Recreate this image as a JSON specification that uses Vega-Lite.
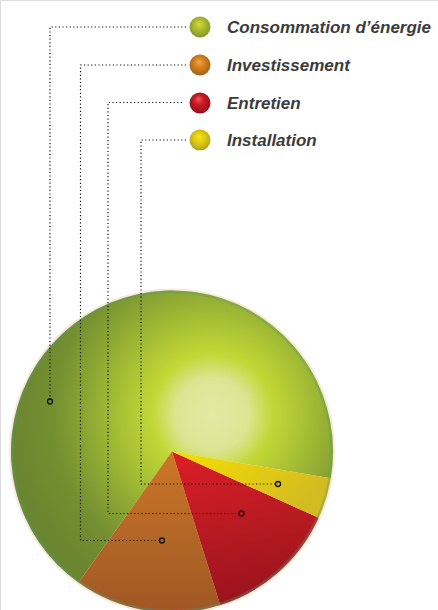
{
  "$schema": "https://vega.github.io/schema/vega-lite/v6.json",
  "width": 438,
  "height": 610,
  "padding": 0,
  "autosize": "none",
  "background": "#ffffff",
  "datasets": {
    "shares": [
      {"poste": "Installation", "part": 4.1, "rang": 1},
      {"poste": "Entretien", "part": 13.4, "rang": 2},
      {"poste": "Investissement", "part": 14.7, "rang": 3},
      {"poste": "Consommation d’énergie", "part": 67.8, "rang": 4}
    ],
    "leaders": [
      {"poste": "Consommation d’énergie", "step": 0, "px": 186, "py": 27},
      {"poste": "Consommation d’énergie", "step": 1, "px": 50, "py": 27},
      {"poste": "Consommation d’énergie", "step": 2, "px": 50, "py": 401.5},
      {"poste": "Investissement", "step": 0, "px": 186, "py": 65},
      {"poste": "Investissement", "step": 1, "px": 80.5, "py": 65},
      {"poste": "Investissement", "step": 2, "px": 80.5, "py": 540.5},
      {"poste": "Investissement", "step": 3, "px": 162, "py": 540.5},
      {"poste": "Entretien", "step": 0, "px": 182, "py": 102.5},
      {"poste": "Entretien", "step": 1, "px": 108, "py": 102.5},
      {"poste": "Entretien", "step": 2, "px": 108, "py": 513.5},
      {"poste": "Entretien", "step": 3, "px": 241.5, "py": 513.5},
      {"poste": "Installation", "step": 0, "px": 186, "py": 140},
      {"poste": "Installation", "step": 1, "px": 141, "py": 140},
      {"poste": "Installation", "step": 2, "px": 141, "py": 484},
      {"poste": "Installation", "step": 3, "px": 278, "py": 484}
    ],
    "anchors": [
      {"poste": "Consommation d’énergie", "px": 50, "py": 401.5, "ly": 27},
      {"poste": "Investissement", "px": 162, "py": 540.5, "ly": 65},
      {"poste": "Entretien", "px": 241.5, "py": 513.5, "ly": 103},
      {"poste": "Installation", "px": 278, "py": 484, "ly": 140}
    ]
  },
  "data": {"name": "shares"},
  "transform": [
    {"stack": "part", "sort": [{"field": "rang", "order": "ascending"}], "groupby": [], "as": ["debut", "fin"]}
  ],
  "layer": [
    {
      "transform": [{"filter": "datum.rang == 1"}],
      "mark": {"type": "arc", "outerRadius": 163, "innerRadius": 0, "theta": 0, "theta2": 6.2832, "fill": "#fbe2c6", "opacity": 0.8},
      "encoding": {
        "x": {"datum": 172, "type": "quantitative", "scale": {"domain": [0, 438], "range": [0, 438]}, "axis": null},
        "y": {"datum": 451.5, "type": "quantitative", "scale": {"domain": [0, 610], "range": [0, 610]}, "axis": null}
      }
    },
    {
      "transform": [{"filter": "datum.rang == 4"}],
      "mark": {"type": "arc", "outerRadius": 161, "innerRadius": 0,
        "fill": {"gradient": "radial", "x1": 0.625, "y1": 0.43, "r1": 0, "x2": 0.625, "y2": 0.43, "r2": 0.62, "stops": [
          {"offset": 0, "color": "#e4e9a4"},
          {"offset": 0.18, "color": "#dde594"},
          {"offset": 0.3, "color": "#c2d836"},
          {"offset": 0.46, "color": "#a9c134"},
          {"offset": 0.62, "color": "#8ea833"},
          {"offset": 0.8, "color": "#748f30"},
          {"offset": 1, "color": "#6b8630"}
        ]}},
      "encoding": {
        "x": {"datum": 172, "type": "quantitative", "scale": {"domain": [0, 438], "range": [0, 438]}, "axis": null},
        "y": {"datum": 451.5, "type": "quantitative", "scale": {"domain": [0, 610], "range": [0, 610]}, "axis": null},
        "theta": {"field": "debut", "type": "quantitative", "stack": null, "scale": {"domain": [0, 100], "range": [1.738, 8.021]}},
        "theta2": {"field": "fin"}
      }
    },
    {
      "transform": [{"filter": "datum.rang == 3"}],
      "mark": {"type": "arc", "outerRadius": 161, "innerRadius": 0,
        "fill": {"gradient": "linear", "x1": 0.5, "y1": 0, "x2": 0.5, "y2": 1, "stops": [
          {"offset": 0, "color": "#cc7826"},
          {"offset": 0.55, "color": "#b26626"},
          {"offset": 1, "color": "#a15724"}
        ]}},
      "encoding": {
        "x": {"datum": 172, "type": "quantitative", "scale": {"domain": [0, 438], "range": [0, 438]}, "axis": null},
        "y": {"datum": 451.5, "type": "quantitative", "scale": {"domain": [0, 610], "range": [0, 610]}, "axis": null},
        "theta": {"field": "debut", "type": "quantitative", "stack": null, "scale": {"domain": [0, 100], "range": [1.738, 8.021]}},
        "theta2": {"field": "fin"}
      }
    },
    {
      "transform": [{"filter": "datum.rang == 2"}],
      "mark": {"type": "arc", "outerRadius": 161, "innerRadius": 0,
        "fill": {"gradient": "linear", "x1": 0.3, "y1": 0, "x2": 0.5, "y2": 1, "stops": [
          {"offset": 0, "color": "#d81e26"},
          {"offset": 0.5, "color": "#b81a22"},
          {"offset": 1, "color": "#98121c"}
        ]}},
      "encoding": {
        "x": {"datum": 172, "type": "quantitative", "scale": {"domain": [0, 438], "range": [0, 438]}, "axis": null},
        "y": {"datum": 451.5, "type": "quantitative", "scale": {"domain": [0, 610], "range": [0, 610]}, "axis": null},
        "theta": {"field": "debut", "type": "quantitative", "stack": null, "scale": {"domain": [0, 100], "range": [1.738, 8.021]}},
        "theta2": {"field": "fin"}
      }
    },
    {
      "transform": [{"filter": "datum.rang == 1"}],
      "mark": {"type": "arc", "outerRadius": 161, "innerRadius": 0,
        "fill": {"gradient": "linear", "x1": 0, "y1": 0, "x2": 1, "y2": 0.4, "stops": [
          {"offset": 0, "color": "#f7df00"},
          {"offset": 1, "color": "#d3bb22"}
        ]}},
      "encoding": {
        "x": {"datum": 172, "type": "quantitative", "scale": {"domain": [0, 438], "range": [0, 438]}, "axis": null},
        "y": {"datum": 451.5, "type": "quantitative", "scale": {"domain": [0, 610], "range": [0, 610]}, "axis": null},
        "theta": {"field": "debut", "type": "quantitative", "stack": null, "scale": {"domain": [0, 100], "range": [1.738, 8.021]}},
        "theta2": {"field": "fin"}
      }
    },
    {
      "transform": [{"filter": "datum.rang == 1"}],
      "mark": {"type": "arc", "outerRadius": 161, "innerRadius": 158.5, "theta": 0, "theta2": 6.2832, "fill": "#4f9a7c", "opacity": 0.35},
      "encoding": {
        "x": {"datum": 172, "type": "quantitative", "scale": {"domain": [0, 438], "range": [0, 438]}, "axis": null},
        "y": {"datum": 451.5, "type": "quantitative", "scale": {"domain": [0, 610], "range": [0, 610]}, "axis": null}
      }
    },
    {
      "data": {"name": "leaders"},
      "mark": {"type": "line", "stroke": "#111111", "strokeWidth": 1.2, "strokeDash": [1.2, 2.4], "interpolate": "linear"},
      "encoding": {
        "x": {"field": "px", "type": "quantitative", "scale": {"domain": [0, 438], "range": [0, 438]}, "axis": null},
        "y": {"field": "py", "type": "quantitative", "scale": {"domain": [0, 610], "range": [0, 610]}, "axis": null},
        "detail": {"field": "poste"},
        "order": {"field": "step", "type": "quantitative"}
      }
    },
    {
      "data": {"name": "anchors"},
      "mark": {"type": "point", "shape": "circle", "filled": false, "stroke": "#111111", "strokeWidth": 1.4, "size": 24, "opacity": 1},
      "encoding": {
        "x": {"field": "px", "type": "quantitative", "scale": {"domain": [0, 438], "range": [0, 438]}, "axis": null},
        "y": {"field": "py", "type": "quantitative", "scale": {"domain": [0, 610], "range": [0, 610]}, "axis": null}
      }
    },
    {
      "data": {"name": "anchors"},
      "transform": [{"filter": "datum.poste == 'Consommation d’énergie'"}],
      "mark": {"type": "point", "shape": "circle", "filled": true, "opacity": 1, "size": 440,
        "fill": {"gradient": "radial", "x1": 0.45, "y1": 0.35, "r1": 0, "x2": 0.5, "y2": 0.45, "r2": 0.6, "stops": [
          {"offset": 0, "color": "#d5dc3a"},
          {"offset": 0.5, "color": "#a9b52a"},
          {"offset": 1, "color": "#7f9233"}
        ]}},
      "encoding": {
        "x": {"datum": 200, "type": "quantitative", "scale": {"domain": [0, 438], "range": [0, 438]}, "axis": null},
        "y": {"field": "ly", "type": "quantitative", "scale": {"domain": [0, 610], "range": [0, 610]}, "axis": null}
      }
    },
    {
      "data": {"name": "anchors"},
      "transform": [{"filter": "datum.poste == 'Investissement'"}],
      "mark": {"type": "point", "shape": "circle", "filled": true, "opacity": 1, "size": 440,
        "fill": {"gradient": "radial", "x1": 0.45, "y1": 0.35, "r1": 0, "x2": 0.5, "y2": 0.45, "r2": 0.6, "stops": [
          {"offset": 0, "color": "#f0a640"},
          {"offset": 0.5, "color": "#cf7a1c"},
          {"offset": 1, "color": "#96601e"}
        ]}},
      "encoding": {
        "x": {"datum": 200, "type": "quantitative", "scale": {"domain": [0, 438], "range": [0, 438]}, "axis": null},
        "y": {"field": "ly", "type": "quantitative", "scale": {"domain": [0, 610], "range": [0, 610]}, "axis": null}
      }
    },
    {
      "data": {"name": "anchors"},
      "transform": [{"filter": "datum.poste == 'Entretien'"}],
      "mark": {"type": "point", "shape": "circle", "filled": true, "opacity": 1, "size": 440,
        "fill": {"gradient": "radial", "x1": 0.42, "y1": 0.3, "r1": 0, "x2": 0.5, "y2": 0.45, "r2": 0.6, "stops": [
          {"offset": 0, "color": "#ee5a5a"},
          {"offset": 0.4, "color": "#c81a22"},
          {"offset": 1, "color": "#8d1018"}
        ]}},
      "encoding": {
        "x": {"datum": 200, "type": "quantitative", "scale": {"domain": [0, 438], "range": [0, 438]}, "axis": null},
        "y": {"field": "ly", "type": "quantitative", "scale": {"domain": [0, 610], "range": [0, 610]}, "axis": null}
      }
    },
    {
      "data": {"name": "anchors"},
      "transform": [{"filter": "datum.poste == 'Installation'"}],
      "mark": {"type": "point", "shape": "circle", "filled": true, "opacity": 1, "size": 440,
        "fill": {"gradient": "radial", "x1": 0.45, "y1": 0.35, "r1": 0, "x2": 0.5, "y2": 0.45, "r2": 0.6, "stops": [
          {"offset": 0, "color": "#f7e814"},
          {"offset": 0.5, "color": "#dcc712"},
          {"offset": 1, "color": "#a89a22"}
        ]}},
      "encoding": {
        "x": {"datum": 200, "type": "quantitative", "scale": {"domain": [0, 438], "range": [0, 438]}, "axis": null},
        "y": {"field": "ly", "type": "quantitative", "scale": {"domain": [0, 610], "range": [0, 610]}, "axis": null}
      }
    },
    {
      "data": {"name": "anchors"},
      "mark": {"type": "text", "align": "left", "baseline": "middle", "dy": 1, "font": "Liberation Sans", "fontStyle": "italic", "fontWeight": "bold", "fontSize": 17, "fill": "#3b3b3b"},
      "encoding": {
        "x": {"datum": 227, "type": "quantitative", "scale": {"domain": [0, 438], "range": [0, 438]}, "axis": null},
        "y": {"field": "ly", "type": "quantitative", "scale": {"domain": [0, 610], "range": [0, 610]}, "axis": null},
        "text": {"field": "poste", "type": "nominal"}
      }
    }
  ]
}
